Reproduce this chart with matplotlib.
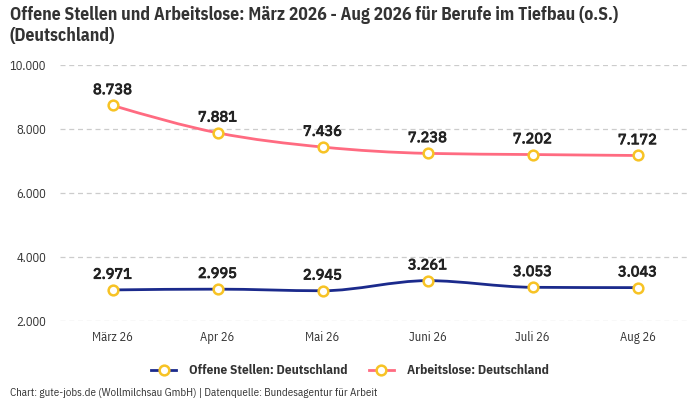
import numpy as np
import matplotlib
matplotlib.use('Agg')
import matplotlib.pyplot as plt
import matplotlib.patheffects as pe
from matplotlib.path import Path
from matplotlib.patches import PathPatch
from matplotlib.lines import Line2D
from matplotlib.ticker import FuncFormatter

plt.rcParams['font.family'] = ['IBM Plex Sans Condensed', 'DejaVu Sans']

# Data
months = ['März 26', 'Apr 26', 'Mai 26', 'Juni 26', 'Juli 26', 'Aug 26']
offene_stellen = [2971, 2995, 2945, 3261, 3053, 3043]
arbeitslose = [8738, 7881, 7436, 7238, 7202, 7172]

BLUE = '#1b2a8c'
PINK = '#ff6b81'
MARKER = '#f7c325'


def fmt(v):
    return f'{v:,.0f}'.replace(',', '.')


def monotone_path(x, y):
    # monotone cubic (like d3 curveMonotoneX) as bezier path
    x = np.asarray(x, float)
    y = np.asarray(y, float)
    n = len(x)
    h = np.diff(x)
    s = np.diff(y) / h
    t = np.zeros(n)
    for i in range(1, n - 1):
        if s[i - 1] * s[i] <= 0:
            t[i] = 0
        else:
            p = (s[i - 1] * h[i] + s[i] * h[i - 1]) / (h[i - 1] + h[i])
            t[i] = (np.sign(s[i - 1]) + np.sign(s[i])) * min(abs(s[i - 1]), abs(s[i]), 0.5 * abs(p))
    t[0] = (3 * s[0] - t[1]) / 2
    t[-1] = (3 * s[-1] - t[-2]) / 2
    verts = [(x[0], y[0])]
    codes = [Path.MOVETO]
    for i in range(n - 1):
        dx = h[i] / 3
        verts += [(x[i] + dx, y[i] + dx * t[i]),
                  (x[i + 1] - dx, y[i + 1] - dx * t[i + 1]),
                  (x[i + 1], y[i + 1])]
        codes += [Path.CURVE4] * 3
    return Path(verts, codes)


fig = plt.figure(figsize=(7, 4), dpi=100)
ax = fig.add_axes([60 / 700, 79 / 400, 630 / 700, 256 / 400])

xs = np.arange(len(months))
for vals, col in [(offene_stellen, BLUE), (arbeitslose, PINK)]:
    ax.add_patch(PathPatch(monotone_path(xs, vals), fill=False, edgecolor=col, lw=2, zorder=3))
    ax.plot(xs, vals, ls='none', marker='o', ms=7, mfc='white', mec=MARKER, mew=1.8, zorder=4)
    for x, v in zip(xs, vals):
        ax.annotate(fmt(v), (x, v), xytext=(0, 6), textcoords='offset points',
                    ha='center', va='bottom', fontsize=10.5,
                    color='#222222', family=['IBM Plex Sans', 'DejaVu Sans'], zorder=5,
                    path_effects=[pe.withStroke(linewidth=0.7, foreground='#222222')])

ax.set_xlim(-0.5, len(months) - 0.5)
ax.set_ylim(2000, 10000)
ax.set_yticks([2000, 4000, 6000, 8000, 10000])
ax.yaxis.set_major_formatter(FuncFormatter(lambda v, p: fmt(v)))
ax.set_xticks(xs)
ax.set_xticklabels(months)
ax.tick_params(axis='both', length=0, labelsize=9, colors='#333333')
ax.tick_params(axis='x', pad=7)
ax.tick_params(axis='y', pad=10)
for sp in ax.spines.values():
    sp.set_visible(False)
ax.yaxis.grid(True, color='#cccccc', lw=0.9, ls=(0, (4, 3)))
ax.set_axisbelow(True)

fig.text(10 / 700, 1 - 6 / 400, 'Offene Stellen und Arbeitslose: März 2026 - Aug 2026 für Berufe im Tiefbau (o.S.)\n(Deutschland)',
         ha='left', va='top', fontsize=12.7, fontweight='bold', color='#333333', linespacing=1.2)

handles = [Line2D([], [], color=BLUE, lw=2, marker='o', ms=7, mfc='white', mec=MARKER, mew=1.8),
           Line2D([], [], color=PINK, lw=2, marker='o', ms=7, mfc='white', mec=MARKER, mew=1.8)]
fig.legend(handles, ['Offene Stellen: Deutschland', 'Arbeitslose: Deutschland'],
           loc='center', bbox_to_anchor=(0.5, 1 - 371 / 400), ncol=2, frameon=False,
           prop={'weight': 'bold', 'size': 9.5}, handlelength=1.9, handletextpad=1.0,
           columnspacing=1.6, labelcolor='#333333')

fig.text(10 / 700, 1 - 393 / 400, 'Chart: gute-jobs.de (Wollmilchsau GmbH) | Datenquelle: Bundesagentur für Arbeit',
         ha='left', va='center', fontsize=7.9, color='#333333')

fig.savefig('out.png', dpi=100)
